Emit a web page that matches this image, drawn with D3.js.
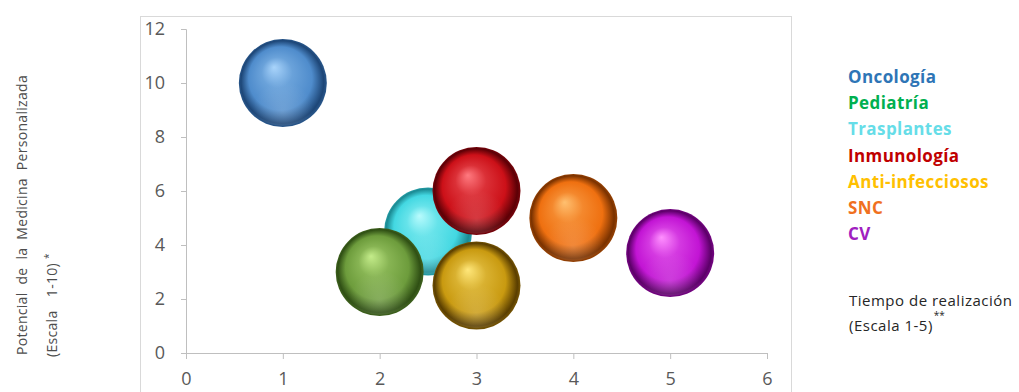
<!DOCTYPE html>
<html>
<head>
<meta charset="utf-8">
<script src="https://cdn.jsdelivr.net/npm/d3@7"></script>
<style>
  html, body { margin: 0; padding: 0; background: #ffffff; }
  svg { display: block; }
</style>
</head>
<body>
<svg id="chart" width="1019" height="392"></svg>
<script>
// Therapeutic areas: time to implementation (x) vs. personalized-medicine potential (y)
const areas = ["Oncología", "Pediatría", "Trasplantes", "Inmunología", "Anti-infecciosos", "SNC", "CV"];
const tiempo = [1, 2, 2.5, 3, 3, 4, 5];
const potencial = [10, 3, 4.5, 6, 2.5, 5, 3.7];
const tamano = [1, 1, 1, 1, 1, 1, 1];
const xTicks = [0, 1, 2, 3, 4, 5, 6];
const yTicks = [0, 2, 4, 6, 8, 10, 12];

// Sphere palettes: [highlight, base, shadow]
const sphereColors = [
  ["#a9d4fb", "#4f8ccc", "#1d4677"],
  ["#c4ec8a", "#6d9c3c", "#2f4f14"],
  ["#b8fbfd", "#43d8e2", "#1b8a93"],
  ["#ff7a80", "#cc1018", "#5c0006"],
  ["#ffe77a", "#c99a10", "#5a3e00"],
  ["#ffc070", "#ef7010", "#7a3200"],
  ["#ff90ff", "#c214d4", "#5c0068"]
];
const legendColors = ["#2e75b6", "#00b050", "#66dde8", "#c00000", "#ffc000", "#f07020", "#a020c0"];
// Painting order (later ones sit on top)
const drawOrder = ["Trasplantes", "Oncología", "Pediatría", "Inmunología", "Anti-infecciosos", "SNC", "CV"];

const svg = d3.select("#chart");
const font = "'Open Sans', Lato, 'Liberation Sans', sans-serif";

// Chart frame
svg.append("rect")
  .attr("x", 140.5).attr("y", 16.5)
  .attr("width", 651).attr("height", 400)
  .attr("fill", "#ffffff").attr("stroke", "#d9d9d9").attr("stroke-width", 1);

const x = d3.scaleLinear().domain([0, 6]).range([186, 767]);
const y = d3.scaleLinear().domain([0, 12]).range([353, 29]);
const r = d3.scaleSqrt().domain([0, 1]).range([0, 44]);

// Gradients
const defs = svg.append("defs");
sphereColors.forEach((c, i) => {
  const g = defs.append("radialGradient")
    .attr("id", "sph" + i)
    .attr("cx", "50%").attr("cy", "50%").attr("r", "50%")
    .attr("fx", "40%").attr("fy", "32%");
  g.append("stop").attr("offset", "0%").attr("stop-color", c[0]);
  g.append("stop").attr("offset", "35%").attr("stop-color", d3.interpolateRgb(c[0], c[1])(0.7));
  g.append("stop").attr("offset", "72%").attr("stop-color", c[1]);
  g.append("stop").attr("offset", "94%").attr("stop-color", c[2]);
  g.append("stop").attr("offset", "100%").attr("stop-color", d3.interpolateRgb(c[2], c[1])(0.25));
});
const refl = defs.append("radialGradient")
  .attr("id", "reflection")
  .attr("cx", "50%").attr("cy", "84%").attr("r", "36%");
refl.append("stop").attr("offset", "0%").attr("stop-color", "#ffffff").attr("stop-opacity", 0.18);
refl.append("stop").attr("offset", "100%").attr("stop-color", "#ffffff").attr("stop-opacity", 0);

// Axes
const axisColor = "#bfbfbf";
const xAxis = svg.append("g")
  .attr("transform", `translate(0,${y(0)})`)
  .call(d3.axisBottom(x).tickValues(xTicks).tickFormat(d3.format("d")).tickSize(6).tickPadding(13));
const yAxis = svg.append("g")
  .attr("transform", `translate(${x(0)},0)`)
  .call(d3.axisLeft(y).tickValues(yTicks).tickFormat(d3.format("d")).tickSize(5).tickPadding(16));
[xAxis, yAxis].forEach(a => {
  a.select(".domain").attr("stroke", axisColor);
  a.selectAll(".tick line").attr("stroke", axisColor);
  a.selectAll(".tick text")
    .attr("fill", "#595959")
    .attr("font-family", font)
    .attr("font-size", 18);
});

// Bubbles
const data = areas.map((name, i) => ({ name, i, x: tiempo[i], y: potencial[i], s: tamano[i] }));
const ordered = drawOrder.map(n => data.find(d => d.name === n));
const bubbles = svg.append("g").selectAll("g").data(ordered).join("g")
  .attr("transform", d => `translate(${x(d.x)},${y(d.y)})`);
bubbles.append("circle")
  .attr("r", d => r(d.s))
  .attr("fill", d => `url(#sph${d.i})`);
bubbles.append("circle")
  .attr("r", d => r(d.s) * 0.97)
  .attr("fill", "url(#reflection)");

// Legend
const legend = svg.append("g")
  .attr("font-family", font).attr("font-weight", "bold").attr("font-size", 17)
  .attr("letter-spacing", 0.4);
legend.selectAll("text").data(areas).join("text")
  .attr("x", 848)
  .attr("y", (d, i) => 83 + i * 26.2)
  .attr("fill", (d, i) => legendColors[i])
  .text(d => d);

// X axis title
const xt = svg.append("g").attr("font-family", font).attr("fill", "#262626")
  .attr("font-size", 15).attr("letter-spacing", 0.5);
xt.append("text").attr("x", 849).attr("y", 306).text("Tiempo de realización");
const xt2 = xt.append("text").attr("x", 849).attr("y", 331).text("(Escala 1-5)");
const xt2End = 849 + xt2.node().getComputedTextLength();
xt.append("text").attr("x", xt2End + 1).attr("y", 319).attr("font-size", 10).attr("letter-spacing", 0).text("**");

// Y axis title (rotated, stretched to its measured length)
const yt = svg.append("g").attr("font-family", font).attr("fill", "#4d4d4d")
  .attr("font-size", 14).attr("letter-spacing", 0.3);
function rotatedLine(tx, ty, label, targetLen) {
  const t = yt.append("text")
    .attr("transform", `translate(${tx},${ty}) rotate(-90)`)
    .text(label);
  const spaces = label.split(" ").length - 1;
  const extra = (targetLen - t.node().getComputedTextLength()) / spaces;
  t.attr("word-spacing", Math.max(0, extra));
  return t;
}
rotatedLine(27, 355, "Potencial de la Medicina Personalizada", 280);
rotatedLine(57, 357, "(Escala 1-10)", 94);
yt.append("text")
  .attr("transform", "translate(52,259) rotate(-90)")
  .attr("font-size", 10)
  .attr("letter-spacing", 0)
  .text("*");
</script>
</body>
</html>
